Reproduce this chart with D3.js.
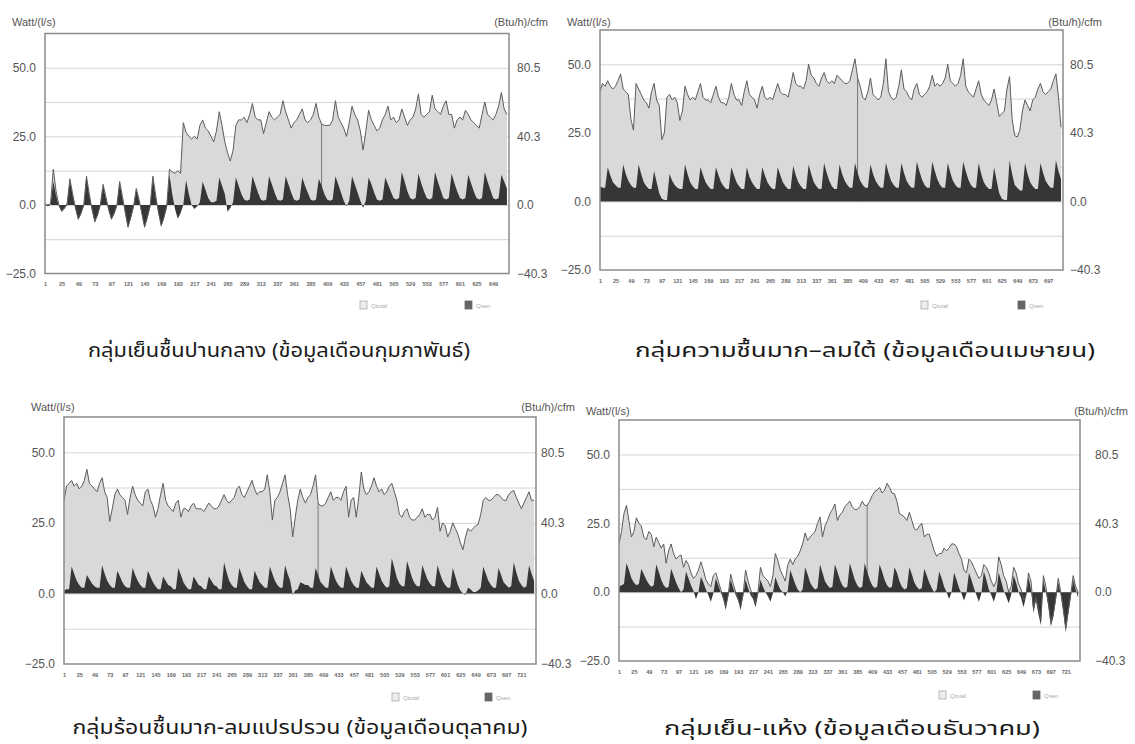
<!DOCTYPE html>
<html>
<head>
<meta charset="utf-8">
<script src="https://cdn.jsdelivr.net/npm/d3@7"></script>
<style>
  html, body { margin: 0; padding: 0; background: #fff; }
  svg { display: block; }
</style>
</head>
<body>
<div id="chart"></div>
<script>
// Hourly cooling load per unit airflow, sampled every 4 hours (6 samples per day).
// Qtotal = total load, Qsen = sensible load, both in Watt/(l/s).

// กุมภาพันธ์ (28 days)
const febQtotal = [
  0.5, 0, 0.5, 13, 5, 0,
  -2, -1, 0.5, 9.5, 4, -1,
  -5, -3, 0, 10.5, 4, -1.5,
  -6, -3.5, 0, 7.5, 3, -1.5,
  -5, -3, 0, 8.5, 3, -2.5,
  -8, -4.5, -0.5, 6, 2, -3,
  -8, -4.5, -0.5, 10.5, 3.5, -2.5,
  -7.5, -4.5, -0.5, 13, 12, 11.5,
  12.5, 11.5, 30, 26.5, 25, 24,
  25, 24, 29, 31, 28, 27,
  25, 23, 27, 34, 29, 23,
  19, 16, 20, 29, 31, 31,
  32, 30, 33, 37, 32, 31,
  31, 26, 30, 34, 32, 31,
  32, 33, 38, 34, 31, 28,
  30, 31, 33, 35, 31, 30,
  31, 33, 37, 32, 29.5, 29,
  29, 29, 31, 38, 32, 30,
  28, 25, 30, 36, 33, 31,
  27, 20, 27, 34.5, 31, 29,
  27, 28, 31, 33, 36, 31,
  32, 30, 31, 35, 32, 29,
  31, 32, 35, 40.5, 33, 32,
  33, 34, 40, 35, 34, 33,
  36, 38, 33, 33, 28, 31,
  32, 31, 34.5, 33, 31, 30,
  29, 28, 33, 37.5, 33, 32,
  31, 33, 36, 41, 35, 33
];
const febQsen = [
  0, -0.5, 0, 8.5, 3.5, -0.5,
  -2.5, -1.5, 0, 9, 3.5, -1.5,
  -5.5, -3.5, -0.5, 10, 3.5, -2,
  -6.5, -4, -0.5, 7, 2.5, -2,
  -5.5, -3.5, -0.5, 8, 2.5, -3,
  -8.5, -5, -1, 5.5, 1.5, -3.5,
  -8.5, -5, -1, 10, 3, -3,
  -8, -5, -1, 11, 4, -1.5,
  -5, -3, 0, 9, 4, 0,
  -1.5, -0.5, 1, 8.5, 5.5, 2.5,
  1, 1, 1.5, 10, 7, 4,
  -2.5, -1, 1, 10, 7, 4,
  2, 1.5, 2, 10.5, 7.5, 4.5,
  2, 1.5, 2, 10.5, 7.5, 4.5,
  2, 1.5, 2, 10.5, 7.5, 4.5,
  2, 1.5, 2, 10, 7, 4.5,
  2, 1.5, 2, 9.5, 7, 4,
  2, 1.5, 2, 10.5, 7.5, 4.5,
  1.5, -0.5, 1.5, 10.5, 7.5, 4.5,
  1.5, -1, 1.5, 10, 7.5, 4.5,
  2, 1.5, 2, 10, 7.5, 5,
  2.5, 2, 2.5, 12, 8.5, 5,
  2.5, 2, 2.5, 11.5, 8, 5,
  2.5, 2, 2.5, 12, 8.5, 5.5,
  2.5, 2, 2.5, 11.5, 8, 5,
  2.5, 2, 2.5, 11, 8, 5,
  2.5, 2, 2.5, 12, 8.5, 5.5,
  2.5, 2, 2.5, 11, 8.5, 6
];

// เมษายน (30 days)
const aprQtotal = [
  40, 43, 42, 44, 42, 41,
  42, 44, 46.5, 41, 40, 39,
  30, 26, 43, 41, 39, 37,
  36, 34, 40, 43, 37, 35,
  22.5, 25, 38, 39, 37, 38,
  36, 29.5, 33, 42, 39, 37,
  38, 37, 40, 43, 38, 37,
  37, 36, 39, 42, 38, 36,
  36, 35, 38, 43, 39, 37,
  37, 35, 40, 44, 39, 38,
  37, 34, 39, 42, 38, 37,
  38, 37, 40, 43, 40, 39,
  39, 38, 42, 47, 43, 42,
  42, 41, 44, 50, 46, 45,
  43, 42, 45, 47, 44, 43,
  44, 43, 46, 45, 44, 43,
  43, 44, 48, 52, 45, 42,
  38, 37, 40, 45, 39, 38,
  37, 38, 43, 52, 40, 38,
  37, 38, 42, 48, 41, 40,
  38, 37, 41, 43, 39, 38,
  39, 40, 42, 46, 42, 43,
  42, 43, 45, 50, 44, 43,
  42, 43, 46, 52, 42, 40,
  39, 38, 41, 44, 39, 37,
  36, 35, 37, 41, 36, 31,
  32, 33, 41, 45.5, 30, 24,
  23.5, 26, 33, 37, 35, 33,
  37, 38, 41, 43, 40, 39,
  40, 41, 44, 46.5, 38, 27
];
const aprQsen = [
  5.5, 5, 5, 12.5, 9.5, 7,
  6, 5, 5, 13.5, 10, 7.5,
  6, 5, 5, 13.5, 10, 7,
  5.5, 4.5, 4.5, 11, 7, 3,
  1, 0.5, 0.5, 10, 7.5, 6,
  5, 4.5, 4.5, 13.5, 10, 7,
  5.5, 4.5, 4.5, 12.5, 9.5, 7,
  5.5, 4.5, 4.5, 12.5, 9.5, 7,
  5.5, 4.5, 4.5, 12.5, 9.5, 7,
  5.5, 4.5, 4.5, 12.5, 9, 7,
  5.5, 4.5, 4.5, 12.5, 9.5, 7,
  5.5, 4.5, 4.5, 12.5, 9.5, 7,
  5.5, 4.5, 4.5, 13, 9.5, 7,
  5.5, 4.5, 4.5, 13.5, 10, 7,
  5.5, 4.5, 4.5, 14, 10.5, 7.5,
  5.5, 4.5, 4.5, 13.5, 10, 7.5,
  6, 5, 5, 14, 10.5, 7.5,
  6, 5, 5, 13.5, 10, 7.5,
  6, 5, 5, 14, 10.5, 7.5,
  6, 5, 5, 14, 10.5, 7.5,
  6, 5, 5, 14.5, 11, 8,
  6, 5, 5, 14.5, 11, 8,
  6, 5, 5, 14, 10.5, 7.5,
  6, 5, 5, 14.5, 11, 8,
  6, 5, 5, 14, 10, 7,
  5.5, 4.5, 4.5, 12.5, 7.5, 3,
  1, 0.5, 0.5, 15, 10, 6,
  5, 4, 4, 14, 10, 7,
  5.5, 4.5, 4.5, 14, 10.5, 7.5,
  6, 5, 5, 15, 11, 8
];

// ตุลาคม (31 days)
const octQtotal = [
  33, 38, 39, 40, 38, 39,
  37, 38, 40, 44, 39, 38,
  37, 36, 39, 41, 36, 34,
  25.5, 30, 35, 37, 35, 34,
  33, 28, 34, 38, 35, 33,
  32, 31, 36, 37, 33, 31,
  27, 30, 35, 39, 33, 31,
  30, 29, 32, 33, 27, 30,
  30, 29, 31, 32, 30, 30,
  30, 29, 30.5, 32, 31, 30,
  30, 31, 33, 35, 33, 32,
  33, 34, 37, 38, 35, 34,
  36, 38, 40, 37, 35, 36,
  36, 37, 42, 36, 26, 33,
  34, 36, 39, 42, 35, 30,
  20, 27, 33, 37, 34, 32,
  34, 35, 38, 42, 32, 31,
  31, 32, 34, 36, 33, 34,
  34, 33, 36, 38, 27, 33,
  34, 27, 34, 43, 37, 35,
  36, 38, 41, 38, 36, 37,
  35, 36, 38, 39, 36, 33,
  28, 27, 29, 30, 27, 26,
  26, 27, 28, 30, 27, 28,
  28, 26, 27, 30.5, 22, 25,
  24, 20, 22, 25, 23, 21,
  18, 15.5, 20, 23, 22, 23,
  24, 24.5, 28, 33, 34, 33,
  33, 34, 35, 35, 34, 33,
  33, 35, 36, 36.5, 34, 32,
  30, 32, 34, 36, 33, 33
];
const octQsen = [
  1, 1.5, 1.5, 9.5, 7, 4.5,
  3, 2, 2, 6.5, 5, 3.5,
  2.5, 2, 2, 10, 7, 4.5,
  3, 2, 2, 8, 6, 4,
  2.5, 2, 2, 9, 6.5, 4.5,
  3, 2, 2, 8, 6, 4,
  2.5, 1.5, 1.5, 6, 4.5, 3,
  2.5, 1.5, 1.5, 9, 6.5, 4,
  2.5, 1.5, 1.5, 6, 4.5, 3,
  2.5, 1.5, 1.5, 6, 4.5, 3,
  2.5, 1.5, 1.5, 11, 7.5, 4.5,
  3, 2, 2, 9, 6.5, 4,
  2.5, 1.5, 1.5, 8, 6, 4,
  3, 2, 2, 9.5, 7, 4.5,
  3, 2, 2, 10, 7, 4.5,
  -0.5, 1, 1.5, 4, 3.5, 3,
  3, 2, 2, 9, 6.5, 4,
  3, 2, 2, 9.5, 7, 4.5,
  3, 2, 2, 9.5, 7, 4.5,
  3, 2, 2, 8, 6, 4,
  3, 2, 2, 9.5, 7, 4.5,
  3, 2, 2.5, 12.5, 9, 5.5,
  3.5, 2.5, 2.5, 11.5, 8.5, 5.5,
  3.5, 2.5, 2.5, 10, 7.5, 5,
  3.5, 2.5, 2.5, 10, 7, 4.5,
  3, 2, 2, 9, 6, 3,
  1, 0, -0.5, 2, 1.5, 0.5,
  0.5, 1, 2, 9.5, 7, 4.5,
  3, 2, 2, 9, 6.5, 4,
  3, 2, 2.5, 11, 7.5, 4.5,
  3, 2, 2.5, 10, 7, 4.5
];

// ธันวาคม (31 days)
const decQtotal = [
  17.5, 22, 28.5, 31.5, 26, 20,
  22, 27, 25, 24, 20, 19,
  22, 21, 16.5, 20, 18, 16,
  17.5, 10.5, 15, 17.5, 14, 12,
  13, 13.5, 9, 11.5, 10, 7,
  5, 6, 8, 11, 8, 4.5,
  3, 2, 6, 7, 4, 1,
  -2, -5, -1, 6.5, 3, 0,
  -2.5, -5, -1, 8, 4, 1,
  -1.5, -4, 0, 9, 6, 5,
  4, 2, 6, 14, 11.5, 8,
  6, 4, 9.8, 12, 10, 12,
  13, 15, 17.5, 21.5, 18.8, 20,
  21, 22, 25, 27.3, 20, 24,
  26, 28.5, 30, 32, 26, 28,
  29, 31, 32, 33, 31, 30,
  30, 31, 33, 31.5, 31.5, 33,
  35, 36.5, 37, 38, 36, 37,
  39.5, 38, 36, 35.7, 33, 28.5,
  28, 27.3, 26, 29, 26, 23,
  22.5, 24, 25, 20, 21, 21,
  18, 15, 13, 14, 14, 16,
  15, 16, 17.5, 17.5, 16.5, 14,
  12, 8, 7, 12, 11, 9,
  7, 5, 6, 10, 9, 7,
  4, 2, 4, 12.8, 10, 6,
  4, 0, 2, 9, 7, 3,
  1, -3, -1, 7, 4, -6,
  -2, -6, -10, 6, 2, -4,
  -11, -8, -2, 5, 0, -6,
  -13, -7, -1, 6, 2, 0
];
const decQsen = [
  2, 2.5, 3, 10.5, 8, 5,
  3.5, 2.5, 3, 8.5, 6.5, 4.5,
  3, 2, 2.5, 10, 7.5, 4.5,
  2.5, 1.5, 2, 8.5, 6, 3.5,
  1.5, 0, 1, 7.5, 5, 2.5,
  0.5, -2.5, 0, 5.5, 3.5, 1,
  -1, -3.5, -0.5, 5, 2.5, 0,
  -2.5, -6.5, -1.5, 4.5, 1.5, -1,
  -3, -6.5, -1.5, 4.5, 1.5, -1,
  -2.5, -5.5, -1, 4.5, 2, 0,
  -1.5, -3.5, -0.5, 5.5, 3, 1,
  0, -1.5, 0.5, 8, 5.5, 3,
  1, 0, 1, 9, 6.5, 3.5,
  2, 1, 1.5, 10, 7, 4,
  2.5, 1.5, 2, 10, 7.5, 4.5,
  2.5, 1.5, 2, 10.5, 7.5, 4.5,
  2.5, 1.5, 2, 10.5, 7.5, 4.5,
  2.5, 1.5, 2, 10, 7.5, 4.5,
  2.5, 1.5, 2, 9, 7, 4,
  2, 1, 1.5, 9, 6.5, 3.5,
  2, 1, 1.5, 8.5, 6, 3.5,
  1.5, 0, 1, 7.5, 5, 2,
  0, -2.5, 0, 7, 4.5, 1.5,
  -0.5, -3, -0.5, 7, 4.5, 1.5,
  -1, -3.5, -0.5, 7.5, 4.5, 1,
  -1, -3.5, -0.5, 7, 4, 0.5,
  -1.5, -4, -1, 6, 3.5, 0,
  -2, -5.5, -1.5, 5.5, 1, -7.5,
  -3, -8, -12, 4.5, 0, -5,
  -12.5, -9, -3, 3.5, -1, -7,
  -14.5, -8, -2, 4.5, 1, -2
];

const hourTicks = [1, 25, 49, 73, 97, 121, 145, 169, 193, 217, 241, 265, 289, 313, 337,
  361, 385, 409, 433, 457, 481, 505, 529, 553, 577, 601, 625, 649, 673, 697, 721];
const leftTicks = [50, 25, 0, -25];
const rightTicks = [80.5, 40.3, 0, -40.3];
const gridValues = [50, 37.5, 25, 12.5, 0, -12.5];
const seriesNames = ['Qtotal', 'Qsen'];
const captions = [
  'กลุ่มเย็นชื้นปานกลาง  (ข้อมูลเดือนกุมภาพันธ์)',
  'กลุ่มความชื้นมาก–ลมใต้ (ข้อมูลเดือนเมษายน)',
  'กลุ่มร้อนชื้นมาก-ลมแปรปรวน  (ข้อมูลเดือนตุลาคม)',
  'กลุ่มเย็น-แห้ง (ข้อมูลเดือนธันวาคม)'
];

const SAMPLE_STEP = 4;          // hours between stored samples
const DROP_INDEX = 100;         // sample at hour 401 where Qtotal briefly falls away
const W_TO_BTU = 1.61;          // Watt/(l/s) -> (Btu/h)/cfm

// layout per panel (frame box, label offsets, legend and caption positions)
const panels = [
  {qtotal: febQtotal, qsen: febQsen, hours: 672, caption: captions[0],
   left: 45, right: 509, top: 33.5, bottom: 273.5, rGap: 8, unitY: 22, unitR: 548,
   legendY: 305, legendX: [364, 469], capX: 279, capY: 357, capW: 382},
  {qtotal: aprQtotal, qsen: aprQsen, hours: 720, caption: captions[1],
   left: 600, right: 1063, top: 30, bottom: 270, rGap: 7, unitY: 22, unitR: 1102,
   legendY: 305, legendX: [925, 1022], capX: 865, capY: 357, capW: 460},
  {qtotal: octQtotal, qsen: octQsen, hours: 744, caption: captions[2],
   left: 64, right: 536, top: 417, bottom: 664, rGap: 5, unitY: 407, unitR: 575,
   legendY: 697, legendX: [396, 489], capX: 300, capY: 734, capW: 455},
  {qtotal: decQtotal, qsen: decQsen, hours: 744, caption: captions[3],
   left: 619, right: 1080, top: 420, bottom: 661, rGap: 15, unitY: 411, unitR: 1128,
   legendY: 695, legendX: [943, 1037], capX: 852, capY: 735, capW: 376}
];

const svg = d3.select('#chart').append('svg').attr('width', 1135).attr('height', 744);
const fmt = d3.format('.1f');
const FONT = 'Liberation Sans, Arial, sans-serif';

panels.forEach((p, pi) => {
  const g = svg.append('g');
  const x = d3.scaleLinear().domain([1, p.hours]).range([p.left, p.right]);
  const y = d3.scaleLinear().domain([-25, 62.5]).range([p.bottom, p.top]);
  const yR = d3.scaleLinear().domain([-25 * W_TO_BTU, 62.5 * W_TO_BTU]).range([p.bottom, p.top]);
  const hourOf = i => 1 + SAMPLE_STEP * i;

  g.append('clipPath').attr('id', `clip${pi}`)
    .append('rect')
    .attr('x', p.left).attr('y', p.top)
    .attr('width', p.right - p.left).attr('height', p.bottom - p.top);

  // horizontal grid
  g.append('g').attr('transform', `translate(${p.left},0)`)
    .call(d3.axisLeft(y).tickValues(gridValues).tickSize(-(p.right - p.left)).tickFormat(''))
    .call(gg => {
      gg.select('.domain').remove();
      gg.selectAll('line').attr('stroke', '#d4d4d4').attr('stroke-width', 1);
    });

  const plot = g.append('g').attr('clip-path', `url(#clip${pi})`);

  const area = d3.area()
    .x((d, i) => x(hourOf(i)))
    .y0(y(0))
    .y1(d => y(d));
  const line = d3.line()
    .x((d, i) => x(hourOf(i)))
    .y(d => y(d));

  plot.append('path').datum(p.qtotal)
    .attr('d', area).attr('fill', '#d9d9d9');

  // one-hour dropout in Qtotal
  plot.append('line')
    .attr('x1', x(hourOf(DROP_INDEX))).attr('x2', x(hourOf(DROP_INDEX)))
    .attr('y1', y(p.qtotal[DROP_INDEX])).attr('y2', y(0))
    .attr('stroke', '#777').attr('stroke-width', 1);

  plot.append('path').datum(p.qsen)
    .attr('d', area).attr('fill', '#363636');

  plot.append('path').datum(p.qtotal)
    .attr('d', line).attr('fill', 'none')
    .attr('stroke', '#5c5c5c').attr('stroke-width', 1);

  // frame
  g.append('rect')
    .attr('x', p.left).attr('y', p.top)
    .attr('width', p.right - p.left).attr('height', p.bottom - p.top)
    .attr('fill', 'none').attr('stroke', '#8a8a8a').attr('stroke-width', 1.5);

  // left axis labels
  g.append('g').attr('transform', `translate(${p.left - 6},0)`)
    .call(d3.axisLeft(y).tickValues(leftTicks).tickSize(0).tickFormat(fmt))
    .call(gg => {
      gg.select('.domain').remove();
      gg.selectAll('text').attr('font-family', FONT)
        .attr('font-size', 12).attr('fill', '#555');
    });

  // right axis labels
  g.append('g').attr('transform', `translate(${p.right + p.rGap},0)`)
    .call(d3.axisRight(yR).tickValues(rightTicks).tickSize(0).tickPadding(0).tickFormat(fmt))
    .call(gg => {
      gg.select('.domain').remove();
      gg.selectAll('text').attr('font-family', FONT)
        .attr('font-size', 12).attr('fill', '#555');
    });

  // hour axis labels
  g.append('g').attr('transform', `translate(0,${p.bottom + 9})`)
    .call(d3.axisBottom(x).tickValues(hourTicks.filter(t => t <= p.hours)).tickSize(0).tickPadding(0))
    .call(gg => {
      gg.select('.domain').remove();
      gg.selectAll('text').attr('font-family', FONT)
        .attr('font-size', 5.5).attr('font-weight', 'bold').attr('fill', '#666');
    });

  // unit labels
  g.append('text')
    .attr('x', p.left - 33).attr('y', p.unitY + 4)
    .attr('font-family', FONT).attr('font-size', 11)
    .attr('fill', '#555').text('Watt/(l/s)');
  g.append('text')
    .attr('x', p.unitR).attr('y', p.unitY + 4).attr('text-anchor', 'end')
    .attr('font-family', FONT).attr('font-size', 11)
    .attr('fill', '#555').text('(Btu/h)/cfm');

  // legend
  seriesNames.forEach((name, si) => {
    const lx = p.legendX[si];
    g.append('rect')
      .attr('x', lx - 4).attr('y', p.legendY - 4)
      .attr('width', 7).attr('height', 8)
      .attr('fill', si === 0 ? '#eeeeee' : '#666')
      .attr('stroke', si === 0 ? '#aaa' : '#666').attr('stroke-width', 0.8);
    g.append('text')
      .attr('x', lx + 7).attr('y', p.legendY + 2.5)
      .attr('font-family', FONT).attr('font-size', 6)
      .attr('fill', '#aaa').text(name);
  });

  // caption
  g.append('text')
    .attr('x', p.capX).attr('y', p.capY).attr('text-anchor', 'middle')
    .attr('font-family', '"Noto Sans Thai", "Noto Sans", "DejaVu Sans", sans-serif')
    .attr('font-size', 19).attr('fill', '#1a1a1a')
    .attr('textLength', p.capW).attr('lengthAdjust', 'spacingAndGlyphs')
    .text(p.caption);
});
</script>
</body>
</html>
